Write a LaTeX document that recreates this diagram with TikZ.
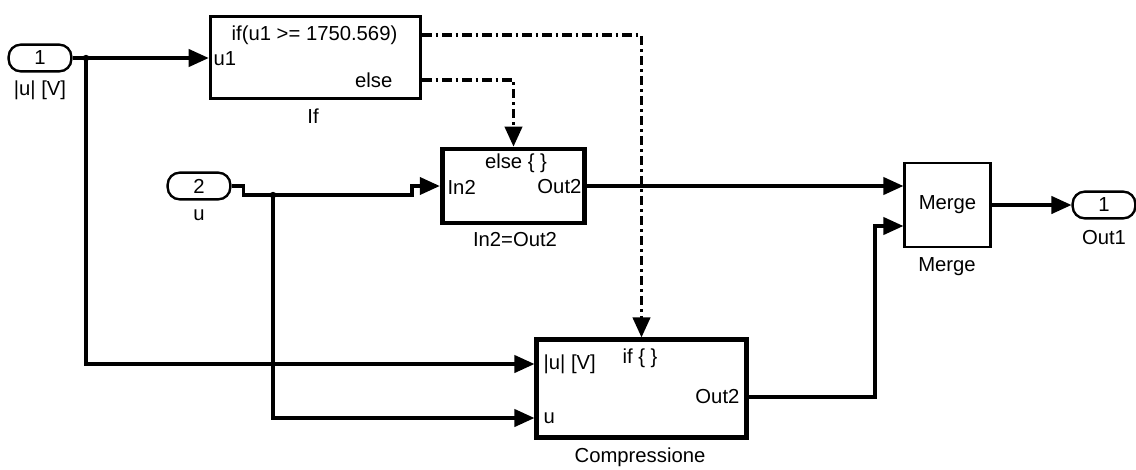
\documentclass[tikz,border=0pt]{standalone}
\usepackage{fontspec}
\setmainfont{Liberation Sans}
\usetikzlibrary{arrows.meta}

\begin{document}
\begin{tikzpicture}[x=0.75pt, y=-0.75pt,
    font=\fontsize{15.2}{17}\selectfont,
    port/.style={draw, line width=1.8pt, rounded corners=9pt, minimum width=47pt,
                 minimum height=20pt, inner sep=0pt},
    blk/.style={draw, line width=2.2pt, inner sep=0pt},
    subsys/.style={draw, line width=3.6pt, inner sep=0pt},
    sig/.style={line width=2.3pt, -{Triangle[length=15pt, width=13pt]}},
    act/.style={sig, dash pattern=on 7pt off 3pt on 2pt off 3pt},
    lbl/.style={inner sep=1pt}]
    \useasboundingbox (0,0) rectangle (1136,469);

    % ports
    \node[port] (in1) at (40,58) {1};
    \node[port] (in2) at (199,186) {2};
    \node[port] (out1) at (1104,205) {1};
    \node[lbl] (in1name) at (40,90) {|u| [V]};
    \node[lbl] (in2name) at (199,215) {u};
    \node[lbl] (out1name) at (1104,238) {Out1};

    % blocks
    \node[blk, minimum width=158pt, minimum height=61pt] (ifb) at (315.5,57.5) {};
    \node[lbl] (ifcond) at (314.5,35) {if(u1 >= 1750.569)};
    \node[lbl, anchor=west] (ifu1) at (212,59) {u1};
    \node[lbl, anchor=east] (ifelse) at (394,80) {else};
    \node[lbl] (ifname) at (313,116) {If};

    \node[subsys, minimum width=107pt, minimum height=55.5pt] (mid) at (513.5,186) {};
    \node[lbl] (midact) at (516,163) {else \{ \}};
    \node[lbl, anchor=west] (midin) at (446,187) {In2};
    \node[lbl, anchor=east] (midout) at (583,187) {Out2};
    \node[lbl] (midname) at (515,240) {In2=Out2};

    \node[blk, minimum width=64pt, minimum height=63pt] (mrg) at (947.5,205) {Merge};
    \node[lbl] (mrgname) at (947,267) {Merge};

    \node[subsys, minimum width=157pt, minimum height=73pt] (cmp) at (641.5,388.5) {};
    \node[lbl] (cmpact) at (640,358) {if \{ \}};
    \node[lbl, anchor=west] (cmpin1) at (542,364) {|u| [V]};
    \node[lbl, anchor=west] (cmpin2) at (542,418) {u};
    \node[lbl, anchor=east] (cmpout) at (741,397) {Out2};
    \node[lbl] (cmpname) at (640,457) {Compressione};

    % signal lines
    \coordinate (br1) at (86,58);
    \coordinate (br2) at (273,195);
    \draw[sig] (in1) -- (ifb.west |- in1);
    \draw[sig] (br1) |- (cmp.west |- 0,364);
    \fill (br1) circle (2.4pt);
    \draw[sig] (in2.east) -- ++(12,0) |- (br2) -- ++(139,0) |- (mid.west);
    \draw[sig] (br2) |- (cmp.west |- 0,418);
    \fill (br2) circle (2.4pt);
    \draw[sig] (mid.east) -- (mrg.west |- mid.east);
    \draw[sig] (cmp.east |- 0,397) -- (875,397) |- (mrg.west |- 0,226);
    \draw[sig] (mrg) -- (out1);

    % action lines
    \draw[act] (ifb.east |- 0,35) -| (cmp.north);
    \draw[act] (ifb.east |- 0,80) -| (mid.north);
\end{tikzpicture}
\end{document}
